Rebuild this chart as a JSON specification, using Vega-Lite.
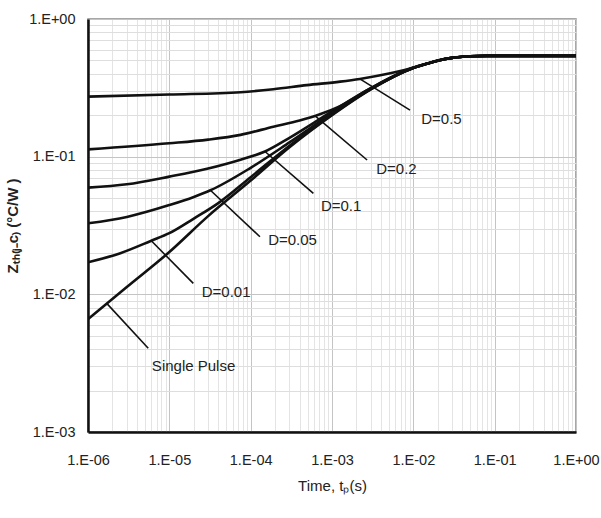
{
  "$schema": "https://vega.github.io/schema/vega-lite/v6.json",
  "autosize": {"type": "none"},
  "width": 488,
  "height": 413,
  "padding": {"left": 88, "top": 19, "right": 25, "bottom": 86},
  "background": "white",
  "config": {
    "view": {"stroke": "#8a8a8a", "strokeWidth": 1.5},
    "font": "Liberation Sans"
  },
  "datasets": {
    "curves": [
      {"s": "SP", "t": 1e-6, "z": 0.0066}, {"s": "SP", "t": 3e-6, "z": 0.0113}, {"s": "SP", "t": 1e-5, "z": 0.0203}, {"s": "SP", "t": 3e-5, "z": 0.037}, {"s": "SP", "t": 1e-4, "z": 0.067}, {"s": "SP", "t": 3e-4, "z": 0.117}, {"s": "SP", "t": 1e-3, "z": 0.2}, {"s": "SP", "t": 3e-3, "z": 0.308}, {"s": "SP", "t": 1e-2, "z": 0.44}, {"s": "SP", "t": 1.5e-2, "z": 0.475}, {"s": "SP", "t": 2.1e-2, "z": 0.502}, {"s": "SP", "t": 3e-2, "z": 0.522}, {"s": "SP", "t": 5e-2, "z": 0.536}, {"s": "SP", "t": 8e-2, "z": 0.54}, {"s": "SP", "t": 1, "z": 0.54},
      {"s": "D001", "t": 1e-6, "z": 0.0171}, {"s": "D001", "t": 2.5e-6, "z": 0.0199}, {"s": "D001", "t": 6e-6, "z": 0.0245}, {"s": "D001", "t": 1e-5, "z": 0.0278}, {"s": "D001", "t": 2e-5, "z": 0.0355}, {"s": "D001", "t": 4e-5, "z": 0.046}, {"s": "D001", "t": 1e-4, "z": 0.071}, {"s": "D001", "t": 3e-4, "z": 0.12}, {"s": "D001", "t": 1e-3, "z": 0.202}, {"s": "D001", "t": 3e-3, "z": 0.309}, {"s": "D001", "t": 1e-2, "z": 0.44}, {"s": "D001", "t": 1.5e-2, "z": 0.475}, {"s": "D001", "t": 2.1e-2, "z": 0.502}, {"s": "D001", "t": 3e-2, "z": 0.522}, {"s": "D001", "t": 5e-2, "z": 0.536}, {"s": "D001", "t": 8e-2, "z": 0.54}, {"s": "D001", "t": 1, "z": 0.54},
      {"s": "D005", "t": 1e-6, "z": 0.0328}, {"s": "D005", "t": 3e-6, "z": 0.0365}, {"s": "D005", "t": 1e-5, "z": 0.0445}, {"s": "D005", "t": 2e-5, "z": 0.051}, {"s": "D005", "t": 3.2e-5, "z": 0.057}, {"s": "D005", "t": 1e-4, "z": 0.083}, {"s": "D005", "t": 3e-4, "z": 0.127}, {"s": "D005", "t": 1e-3, "z": 0.206}, {"s": "D005", "t": 3e-3, "z": 0.311}, {"s": "D005", "t": 1e-2, "z": 0.441}, {"s": "D005", "t": 1.5e-2, "z": 0.475}, {"s": "D005", "t": 2.1e-2, "z": 0.502}, {"s": "D005", "t": 3e-2, "z": 0.522}, {"s": "D005", "t": 5e-2, "z": 0.536}, {"s": "D005", "t": 8e-2, "z": 0.54}, {"s": "D005", "t": 1, "z": 0.54},
      {"s": "D01", "t": 1e-6, "z": 0.0596}, {"s": "D01", "t": 3e-6, "z": 0.063}, {"s": "D01", "t": 1e-5, "z": 0.0716}, {"s": "D01", "t": 3e-5, "z": 0.082}, {"s": "D01", "t": 7.5e-5, "z": 0.095}, {"s": "D01", "t": 1.5e-4, "z": 0.109}, {"s": "D01", "t": 3e-4, "z": 0.137}, {"s": "D01", "t": 1e-3, "z": 0.213}, {"s": "D01", "t": 3e-3, "z": 0.314}, {"s": "D01", "t": 1e-2, "z": 0.442}, {"s": "D01", "t": 1.5e-2, "z": 0.475}, {"s": "D01", "t": 2.1e-2, "z": 0.502}, {"s": "D01", "t": 3e-2, "z": 0.522}, {"s": "D01", "t": 5e-2, "z": 0.536}, {"s": "D01", "t": 8e-2, "z": 0.54}, {"s": "D01", "t": 1, "z": 0.54},
      {"s": "D02", "t": 1e-6, "z": 0.113}, {"s": "D02", "t": 1e-5, "z": 0.125}, {"s": "D02", "t": 3e-5, "z": 0.133}, {"s": "D02", "t": 7.5e-5, "z": 0.144}, {"s": "D02", "t": 1.9e-4, "z": 0.165}, {"s": "D02", "t": 4e-4, "z": 0.183}, {"s": "D02", "t": 7.1e-4, "z": 0.203}, {"s": "D02", "t": 1.2e-3, "z": 0.23}, {"s": "D02", "t": 3e-3, "z": 0.315}, {"s": "D02", "t": 1e-2, "z": 0.444}, {"s": "D02", "t": 1.5e-2, "z": 0.476}, {"s": "D02", "t": 2.1e-2, "z": 0.502}, {"s": "D02", "t": 3e-2, "z": 0.522}, {"s": "D02", "t": 5e-2, "z": 0.536}, {"s": "D02", "t": 8e-2, "z": 0.54}, {"s": "D02", "t": 1, "z": 0.54},
      {"s": "D05", "t": 1e-6, "z": 0.273}, {"s": "D05", "t": 1e-5, "z": 0.283}, {"s": "D05", "t": 7.5e-5, "z": 0.294}, {"s": "D05", "t": 1.9e-4, "z": 0.309}, {"s": "D05", "t": 4.9e-4, "z": 0.331}, {"s": "D05", "t": 1.26e-3, "z": 0.351}, {"s": "D05", "t": 2.2e-3, "z": 0.367}, {"s": "D05", "t": 5.2e-3, "z": 0.403}, {"s": "D05", "t": 1.2e-2, "z": 0.456}, {"s": "D05", "t": 2.1e-2, "z": 0.503}, {"s": "D05", "t": 3e-2, "z": 0.522}, {"s": "D05", "t": 5e-2, "z": 0.536}, {"s": "D05", "t": 8e-2, "z": 0.54}, {"s": "D05", "t": 1, "z": 0.54}
    ],
    "leaders": [
      {"t1": 1.7e-6, "z1": 0.0086, "t2": 5.5e-6, "z2": 0.00406},
      {"t1": 6e-6, "z1": 0.0245, "t2": 1.97e-5, "z2": 0.012},
      {"t1": 3.2e-5, "z1": 0.057, "t2": 1.3e-4, "z2": 0.0262},
      {"t1": 1.5e-4, "z1": 0.109, "t2": 5.9e-4, "z2": 0.0542},
      {"t1": 6.2e-4, "z1": 0.198, "t2": 2.7e-3, "z2": 0.0946},
      {"t1": 2.2e-3, "z1": 0.367, "t2": 9.1e-3, "z2": 0.218}
    ],
    "labels": [
      {"t": 6.1e-6, "z": 0.00302, "label": "Single Pulse"},
      {"t": 2.5e-5, "z": 0.0104, "label": "D=0.01"},
      {"t": 1.64e-4, "z": 0.0248, "label": "D=0.05"},
      {"t": 7.3e-4, "z": 0.0439, "label": "D=0.1"},
      {"t": 3.5e-3, "z": 0.0814, "label": "D=0.2"},
      {"t": 1.25e-2, "z": 0.188, "label": "D=0.5"}
    ]
  },
  "layer": [
    {
      "data": {"name": "curves"},
      "mark": {"type": "line", "color": "#111111", "strokeWidth": 2.6, "interpolate": "monotone", "clip": true},
      "encoding": {
        "x": {
          "field": "t", "type": "quantitative",
          "scale": {"type": "log", "domain": [1e-6, 1], "nice": false},
          "axis": {
            "title": "Time, tₚ(s)",
            "values": [1e-6, 2e-6, 3e-6, 4e-6, 5e-6, 6e-6, 7e-6, 8e-6, 9e-6, 1e-5, 2e-5, 3e-5, 4e-5, 5e-5, 6e-5, 7e-5, 8e-5, 9e-5, 1e-4, 2e-4, 3e-4, 4e-4, 5e-4, 6e-4, 7e-4, 8e-4, 9e-4, 1e-3, 2e-3, 3e-3, 4e-3, 5e-3, 6e-3, 7e-3, 8e-3, 9e-3, 1e-2, 2e-2, 3e-2, 4e-2, 5e-2, 6e-2, 7e-2, 8e-2, 9e-2, 0.1, 0.2, 0.3, 0.4, 0.5, 0.6, 0.7, 0.8, 0.9, 1],
            "labelExpr": "abs(log(datum.value)/LN10 - round(log(datum.value)/LN10)) < 0.001 ? (round(log(datum.value)/LN10) == 0 ? '1.E+00' : '1.E-0' + abs(round(log(datum.value)/LN10))) : ''",
            "grid": true,
            "gridColor": {"condition": {"test": "abs(log(datum.value)/LN10 - round(log(datum.value)/LN10)) < 0.001", "value": "#c4c4c4"}, "value": "#e4e4e4"},
            "gridWidth": 1,
            "ticks": false,
            "domain": true, "domainColor": "#111111", "domainWidth": 2.5,
            "labelFontSize": 14.5, "labelColor": "#222222", "labelPadding": 21,
            "labelFlush": false, "labelOverlap": false,
            "titleFontSize": 15, "titleFontWeight": "normal", "titleColor": "#222222", "titlePadding": 12
          }
        },
        "y": {
          "field": "z", "type": "quantitative",
          "scale": {"type": "log", "domain": [0.001, 1], "nice": false},
          "axis": {
            "title": "Zₜₕ₍ⱼ₋c₎ (°C/W )",
            "values": [0.001, 0.002, 0.003, 0.004, 0.005, 0.006, 0.007, 0.008, 0.009, 0.01, 0.02, 0.03, 0.04, 0.05, 0.06, 0.07, 0.08, 0.09, 0.1, 0.2, 0.3, 0.4, 0.5, 0.6, 0.7, 0.8, 0.9, 1],
            "labelExpr": "abs(log(datum.value)/LN10 - round(log(datum.value)/LN10)) < 0.001 ? (round(log(datum.value)/LN10) == 0 ? '1.E+00' : '1.E-0' + abs(round(log(datum.value)/LN10))) : ''",
            "grid": true,
            "gridColor": {"condition": {"test": "abs(log(datum.value)/LN10 - round(log(datum.value)/LN10)) < 0.001", "value": "#c4c4c4"}, "value": "#dedede"},
            "gridWidth": 1,
            "ticks": false,
            "domain": true, "domainColor": "#111111", "domainWidth": 2.5,
            "labelFontSize": 14.5, "labelColor": "#222222", "labelPadding": 13,
            "labelFlush": false, "labelOverlap": false,
            "titleFontSize": 15, "titleFontWeight": "bold", "titleColor": "#222222", "titlePadding": 8
          }
        },
        "detail": {"field": "s"}
      }
    },
    {
      "data": {"name": "leaders"},
      "mark": {"type": "rule", "color": "#111111", "strokeWidth": 1.6},
      "encoding": {
        "x": {"field": "t1", "type": "quantitative"},
        "y": {"field": "z1", "type": "quantitative"},
        "x2": {"field": "t2"},
        "y2": {"field": "z2"}
      }
    },
    {
      "data": {"name": "labels"},
      "mark": {"type": "text", "align": "left", "baseline": "middle", "fontSize": 15, "color": "#222222"},
      "encoding": {
        "x": {"field": "t", "type": "quantitative"},
        "y": {"field": "z", "type": "quantitative"},
        "text": {"field": "label"}
      }
    }
  ]
}
